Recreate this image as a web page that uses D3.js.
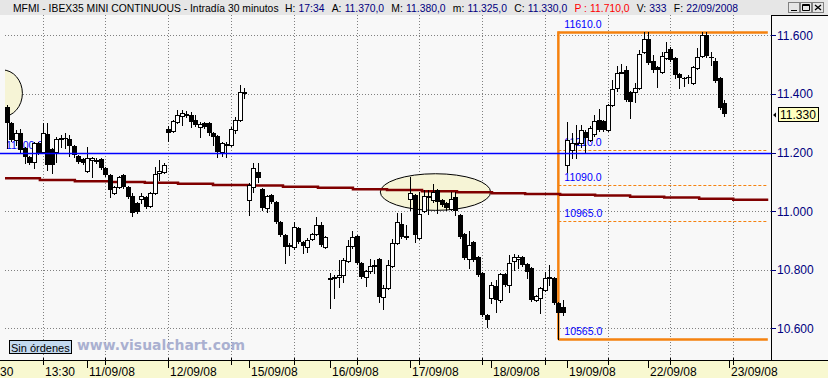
<!DOCTYPE html>
<html>
<head>
<meta charset="utf-8">
<script src="https://cdn.jsdelivr.net/npm/d3@7/dist/d3.min.js"></script>
<style>
  body { margin: 0; background: #f8f8f8; }
  svg { display: block; font-family: "Liberation Sans", Arial, sans-serif; }
</style>
</head>
<body>
<svg id="chart" width="828" height="378"></svg>
<script>
// MFMI 30 min bars, 10/09/08 .. 22/09/08
var opens = [11356,11300,11243,11267,11215,11185,11168,11232,11202,11263,11212,11202,11246,11248,11246,11222,11188,11178,
  11137,11174,11175,11178,11147,11123,11062,11082,11123,11082,11051,11027,11041,11048,11017,11062,11130,11133,
  11280,11273,11304,11325,11330,11328,11311,11287,11301,11301,11267,11256,11202,11229,11226,11277,11311,11404,
  11038,11082,11133,11075,11011,11055,11031,10963,10918,10884,10877,10942,10894,10877,10905,10922,10953,10877,
  10772,10772,10775,10782,10830,10881,10915,10823,10775,10796,10813,10836,10707,10738,10813,10891,10956,10915,
  11041,11055,10908,11000,11048,11038,11072,11038,11027,11007,11048,10987,10922,10836,10894,10843,10789,10645,
  10703,10745,10697,10785,10748,10830,10836,10843,10820,10806,10697,10703,10731,10772,10772,10686,10672,
  11157,11209,11232,11232,11270,11243,11263,11311,11308,11277,11362,11420,11472,11482,11406,11406,11420,11543,
  11587,11512,11492,11475,11523,11553,11523,11468,11455,11458,11437,11488,11529,11600,11525,11512,11454,11370];
var highs = [11362,11304,11277,11280,11218,11188,11236,11236,11301,11301,11215,11253,11260,11267,11260,11226,11191,11181,
  11219,11185,11181,11181,11150,11127,11085,11120,11127,11085,11062,11031,11062,11051,11065,11150,11174,11164,
  11290,11311,11345,11345,11342,11338,11328,11304,11304,11304,11270,11260,11236,11236,11287,11321,11430,11420,
  11096,11164,11164,11079,11055,11058,11034,10966,10922,10891,10963,10946,10898,10908,10925,10980,10963,10915,
  10789,10782,10833,10840,10901,10932,10918,10826,10799,10836,10833,10840,10748,10833,10905,10993,10993,10953,
  11116,11058,11065,11072,11072,11093,11075,11041,11031,11065,11065,10990,10925,10932,10898,10846,10792,10649,
  10758,10765,10789,10789,10850,10853,10850,10846,10823,10809,10714,10741,10792,10816,10775,10690,10697,
  11304,11267,11294,11294,11277,11290,11328,11348,11311,11365,11447,11495,11502,11495,11410,11437,11550,11610,
  11610,11532,11495,11543,11577,11560,11526,11471,11458,11465,11495,11557,11611,11611,11543,11523,11458,11380];
var lows = [11215,11240,11226,11202,11164,11160,11147,11195,11198,11140,11130,11168,11219,11215,11188,11185,11164,11160,
  11133,11116,11164,11143,11120,11048,11058,11079,11079,11045,10983,10993,11027,11010,11014,11058,11106,11130,
  11239,11270,11301,11294,11321,11287,11290,11253,11284,11260,11226,11185,11188,11185,11222,11267,11308,11386,
  10987,11065,11100,11004,10997,11027,10960,10915,10823,10850,10870,10891,10857,10860,10901,10918,10881,10874,
  10669,10703,10741,10758,10826,10874,10820,10772,10744,10789,10789,10690,10666,10735,10810,10888,10908,10905,
  11004,10894,10905,10997,10990,11031,10993,11017,11004,11004,10987,10908,10836,10806,10830,10779,10642,10604,
  10686,10656,10690,10745,10724,10799,10806,10813,10772,10693,10693,10652,10728,10748,10683,10565,10645,
  11133,11181,11181,11219,11202,11239,11256,11273,11273,11273,11358,11410,11471,11376,11318,11372,11417,11540,
  11502,11475,11424,11472,11519,11512,11454,11420,11427,11437,11433,11485,11526,11526,11498,11440,11348,11325];
var closes = [11300,11243,11267,11209,11185,11164,11232,11198,11267,11157,11157,11246,11248,11246,11222,11191,11168,11164,
  11181,11181,11175,11147,11123,11072,11082,11116,11082,11048,10993,10997,11051,11014,11062,11127,11137,11157,
  11267,11308,11328,11335,11331,11304,11294,11297,11287,11267,11253,11202,11232,11229,11280,11311,11406,11406,
  11089,11147,11113,11011,11051,11031,10963,10918,10877,10884,10946,10894,10881,10901,10922,10953,10884,10912,
  10772,10775,10782,10833,10881,10912,10823,10775,10796,10813,10815,10707,10738,10816,10891,10963,10912,10908,
  11062,10918,10990,11051,11050,11065,11031,11021,11011,11041,11000,10912,10840,10884,10833,10782,10645,10628,
  10748,10697,10785,10748,10823,10843,10843,10816,10792,10697,10710,10738,10772,10774,10686,10652,10652,
  11243,11232,11232,11277,11250,11284,11308,11277,11277,11362,11417,11471,11475,11379,11372,11420,11536,11587,
  11505,11482,11482,11529,11543,11516,11465,11454,11454,11457,11492,11526,11600,11529,11522,11444,11352,11330];

// first bar of each session and its label
var dayStart = [18, 36, 54, 72, 90, 108, 125, 143, 161];
var dayLabels = ["11/09/08","12/09/08","15/09/08","16/09/08","17/09/08","18/09/08","19/09/08","22/09/08","23/09/08"];
// time grid (every 14 bars)
var gridBars = [8, 22, 36, 50, 64, 78, 92, 106, 120, 134, 148, 162];
var gridLabels = {"8": "13:30"};

var priceTicks = [10600, 10800, 11000, 11200, 11400, 11600];

// long average, stepped
var maBreaks = [-1.5, 7.4, 15.2, 23.0, 30.8, 38.2, 46.0, 53.8, 61.6, 69.4, 77.2, 84.8, 92.6, 100.4, 108.2, 115.6, 123.4, 131.2, 139.0, 146.6, 154.4, 162.0, 169.8];
var maLevels = [11112, 11106, 11102, 11099, 11097, 11093, 11089, 11087, 11083, 11080, 11075, 11072, 11068, 11064, 11061, 11058, 11056, 11053, 11049, 11046, 11042, 11039];

// horizontal line and fibonacci (10565 -> 11610)
var hLevel = 11200;
var fibLevels = [11610, 11210, 11090, 10965, 10565];
var fibFrom = 123, fibTo = 169.7;

// ellipses: center bar, center price, half width (bars), half height (points)
var ellBar = [-1.0, 95.6];
var ellPrice = [11402, 11065];
var ellHalfBars = [4.5, 12.3];
var ellHalfPts = [80, 62.5];

// header: title, then groups of [label, value]
var headTitle = "MFMI - IBEX35 MINI CONTINUOUS - Intradía 30 minutos";
var headLabels = ["H:", "A:", "M:", "m:", "C:", "P :", "V:", "F:"];
var headValues = ["17:34", "11.370,0", "11.380,0", "11.325,0", "11.330,0", "11.710,0", "333", "22/09/2008"];

var svg = d3.select("#chart");
var plotL = 5, plotR = 771, plotT = 15, plotB = 360;

var x = d3.scaleLinear().domain([0, opens.length - 1]).range([6.7, 724.3]);
var y = d3.scaleLinear().domain([10600, 11600]).range([328.3, 35.3]);
var fmtAxis = d3.formatLocale({decimal: ",", thousands: ".", grouping: [3], currency: ["", ""]}).format(",");
var fmtLvl = d3.format(".1f");

svg.append("rect").attr("width", 828).attr("height", 378).attr("fill", "#f8f8f8");

svg.append("clipPath").attr("id", "plotclip")
  .append("rect").attr("x", plotL).attr("y", plotT).attr("width", plotR - plotL).attr("height", plotB - plotT);

var plot = svg.append("g").attr("clip-path", "url(#plotclip)");

// grid
plot.selectAll(".hgrid").data(priceTicks).enter().append("line")
  .attr("x1", plotL).attr("x2", plotR)
  .attr("y1", function(d) { return Math.round(y(d)) + 0.5; })
  .attr("y2", function(d) { return Math.round(y(d)) + 0.5; })
  .attr("stroke", "#808080").attr("stroke-dasharray", "1,2");
plot.selectAll(".vgrid").data(gridBars).enter().append("line")
  .attr("x1", function(d) { return Math.round(x(d)) + 0.5; })
  .attr("x2", function(d) { return Math.round(x(d)) + 0.5; })
  .attr("y1", plotT).attr("y2", plotB)
  .attr("stroke", "#808080").attr("stroke-dasharray", "1,2");

// ellipses
ellBar.forEach(function(b, i) {
  plot.append("ellipse")
    .attr("cx", x(b)).attr("cy", y(ellPrice[i]))
    .attr("rx", x(b + ellHalfBars[i]) - x(b))
    .attr("ry", y(ellPrice[i] - ellHalfPts[i]) - y(ellPrice[i]))
    .attr("fill", "#f6f4d6").attr("stroke", "#000").attr("stroke-width", 1);
});

// horizontal line
svg.append("line")
  .attr("x1", 0).attr("x2", plotR)
  .attr("y1", Math.round(y(hLevel)) + 0.5).attr("y2", Math.round(y(hLevel)) + 0.5)
  .attr("stroke", "#0000ff").attr("stroke-width", 1.5);
plot.append("text")
  .attr("x", plotL + 1).attr("y", y(hLevel) - 4)
  .attr("font-size", "10.5px").attr("fill", "#0000ff")
  .text(fmtLvl(hLevel));

// fibonacci
var fibG = plot.append("g");
fibLevels.forEach(function(v, i) {
  var edge = (i === 0 || i === fibLevels.length - 1);
  fibG.append("line")
    .attr("x1", x(fibFrom)).attr("x2", x(fibTo))
    .attr("y1", Math.round(y(v)) + 0.5).attr("y2", Math.round(y(v)) + 0.5)
    .attr("stroke", "#f5820f")
    .attr("stroke-width", edge ? 2.5 : 1)
    .attr("stroke-dasharray", edge ? null : "3,2");
  fibG.append("text")
    .attr("x", x(fibFrom) + 6).attr("y", y(v) - 4)
    .attr("font-size", "10.5px").attr("fill", "#0000ff")
    .text(fmtLvl(v));
});
fibG.append("line")
  .attr("x1", x(fibFrom)).attr("x2", x(fibFrom))
  .attr("y1", y(fibLevels[0]) - 1).attr("y2", y(fibLevels[fibLevels.length - 1]) + 1)
  .attr("stroke", "#f5820f").attr("stroke-width", 2.5);

// stepped average
var maPts = maLevels.map(function(v, i) { return [maBreaks[i], v]; });
maPts.push([maBreaks[maBreaks.length - 1], maLevels[maLevels.length - 1]]);
plot.append("path")
  .attr("d", d3.line().x(function(d) { return x(d[0]); }).y(function(d) { return y(d[1]); }).curve(d3.curveStepAfter)(maPts))
  .attr("fill", "none").attr("stroke", "#800000").attr("stroke-width", 2.5);

// candles
var bars = opens.map(function(o, i) { return {i: i, o: o, h: highs[i], l: lows[i], c: closes[i]}; });
var cg = plot.selectAll(".candle").data(bars).enter().append("g").attr("class", "candle");
cg.append("line")
  .attr("x1", function(d) { return Math.round(x(d.i)) + 0.5; })
  .attr("x2", function(d) { return Math.round(x(d.i)) + 0.5; })
  .attr("y1", function(d) { return Math.round(y(d.h)); })
  .attr("y2", function(d) { return Math.round(y(d.l)) + 1; })
  .attr("stroke", "#000");
cg.append("rect")
  .attr("x", function(d) { return d.c >= d.o ? Math.round(x(d.i)) - 1.5 : Math.round(x(d.i)) - 2; })
  .attr("y", function(d) { return Math.round(y(Math.max(d.o, d.c))) + (d.c >= d.o ? 0.5 : 0); })
  .attr("width", function(d) { return d.c >= d.o ? 4 : 5; })
  .attr("height", function(d) { return Math.max(1, Math.round(y(Math.min(d.o, d.c))) - Math.round(y(Math.max(d.o, d.c)))); })
  .attr("fill", function(d) { return d.c >= d.o ? "#ffffff" : "#000000"; })
  .attr("stroke", function(d) { return d.c >= d.o ? "#000" : "none"; })
  .attr("stroke-width", 1);

// bottom axis band
svg.append("rect").attr("x", 0).attr("y", plotB + 1).attr("width", 828).attr("height", 378 - plotB - 1).attr("fill", "#f8f8d0");
svg.append("line").attr("x1", 0).attr("x2", 828).attr("y1", plotB + 0.5).attr("y2", plotB + 0.5).attr("stroke", "#000");

svg.selectAll(".minor").data(gridBars).enter().append("line")
  .attr("x1", function(d) { return Math.round(x(d)) + 0.5; })
  .attr("x2", function(d) { return Math.round(x(d)) + 0.5; })
  .attr("y1", plotB - 2).attr("y2", plotB + 5)
  .attr("stroke", "#000");
svg.selectAll(".minorLbl").data(gridBars.filter(function(d) { return gridLabels[d]; })).enter().append("text")
  .attr("x", function(d) { return Math.round(x(d)) + 2; })
  .attr("y", 375.5).attr("font-size", "12px").attr("fill", "#000")
  .text(function(d) { return gridLabels[d]; });
// tail of the previous time label, cut by the window
svg.append("text").attr("x", 0).attr("y", 375.5).attr("font-size", "12px").attr("fill", "#000").text("30");

svg.selectAll(".dayTick").data(dayStart).enter().append("line")
  .attr("x1", function(d) { return Math.round(x(d)) + 0.5; })
  .attr("x2", function(d) { return Math.round(x(d)) + 0.5; })
  .attr("y1", plotB).attr("y2", plotB + 8)
  .attr("stroke", "#000");
svg.selectAll(".dayLbl").data(dayStart).enter().append("text")
  .attr("x", function(d) { return Math.round(x(d)) + 2; })
  .attr("y", 375.5).attr("font-size", "12px").attr("fill", "#000")
  .text(function(d, i) { return dayLabels[i]; });

// right axis
svg.append("line").attr("x1", plotR + 0.5).attr("x2", plotR + 0.5).attr("y1", plotT).attr("y2", plotB).attr("stroke", "#000");
svg.append("line").attr("x1", plotR).attr("x2", 828).attr("y1", plotT + 0.5).attr("y2", plotT + 0.5).attr("stroke", "#000");
var ra = svg.append("g");
ra.selectAll("line").data(priceTicks).enter().append("line")
  .attr("x1", plotR).attr("x2", plotR + 5)
  .attr("y1", function(d) { return Math.round(y(d)) + 0.5; })
  .attr("y2", function(d) { return Math.round(y(d)) + 0.5; })
  .attr("stroke", "#000080");
ra.selectAll("text").data(priceTicks).enter().append("text")
  .attr("x", plotR + 6).attr("y", function(d) { return y(d) + 4.5; })
  .attr("font-size", "12px").attr("fill", "#000080")
  .text(function(d) { return fmtAxis(d); });

// last price tag
var last = closes[closes.length - 1];
svg.append("path")
  .attr("d", "M" + (plotR + 2) + "," + (y(last) + 0.5) + "l3,-2.5v5z")
  .attr("fill", "#000");
svg.append("rect")
  .attr("x", 778.5).attr("y", Math.round(y(last)) - 6.5)
  .attr("width", 40).attr("height", 14)
  .attr("fill", "#ffffc0").attr("stroke", "#000");
svg.append("text")
  .attr("x", 780).attr("y", Math.round(y(last)) + 5)
  .attr("font-size", "12px").attr("fill", "#000")
  .text(fmtAxis(last));

// status box + watermark
svg.append("rect").attr("x", 9.5).attr("y", 340.5).attr("width", 62).attr("height", 13)
  .attr("fill", "#c3d9ef").attr("stroke", "#000");
svg.append("text").attr("x", 11).attr("y", 351.5).attr("font-size", "11px").attr("fill", "#000").text("Sin órdenes");
svg.append("text").attr("x", 77).attr("y", 350)
  .attr("font-family", "DejaVu Sans, Verdana, sans-serif").attr("font-weight", "bold")
  .attr("font-size", "14px").attr("fill", "#aab0d0")
  .attr("textLength", 168).attr("lengthAdjust", "spacingAndGlyphs")
  .text("www.visualchart.com");

// header: lay pieces out one after another, then fit to the bar width
svg.append("rect").attr("width", 828).attr("height", plotT).attr("fill", "#e6e6e6");
var headG = svg.append("g");
var pieces = [{t: headTitle, c: "#000", gap: 7}];
headLabels.forEach(function(l, i) {
  pieces.push({t: l, c: i === 5 ? "#ff0000" : "#000", gap: 3.5});
  pieces.push({t: headValues[i], c: i === 5 ? "#ff0000" : "#000080", gap: 8});
});
var baseSize = 11.5, cur = 0;
pieces.forEach(function(p) {
  p.node = headG.append("text").attr("y", 12).attr("font-size", baseSize + "px").attr("fill", p.c).text(p.t);
  p.x = cur;
  cur += p.node.node().getComputedTextLength() + p.gap;
});
var k = 725 / (cur - pieces[pieces.length - 1].gap);
pieces.forEach(function(p) {
  p.node.attr("x", 13 + p.x * k).attr("font-size", (baseSize * k) + "px");
});

// window buttons
var btn = svg.append("g");
[788, 800, 812].forEach(function(bx, i) {
  btn.append("rect").attr("x", bx + 0.5).attr("y", 2.5).attr("width", 11).attr("height", 10)
    .attr("fill", "#e6e6e6").attr("stroke", "#808080");
  var p;
  if (i === 0) p = "M" + (bx + 3) + ",10.5h6";
  else if (i === 1) p = "M" + (bx + 2.5) + ",4.5h7v6h-7z M" + (bx + 2.5) + ",5.5h7";
  else p = "M" + (bx + 3) + ",5l6,5M" + (bx + 9) + ",5l-6,5";
  btn.append("path").attr("d", p).attr("fill", "none").attr("stroke", "#000").attr("stroke-width", i === 2 ? 1.3 : 1);
});
</script>
</body>
</html>
